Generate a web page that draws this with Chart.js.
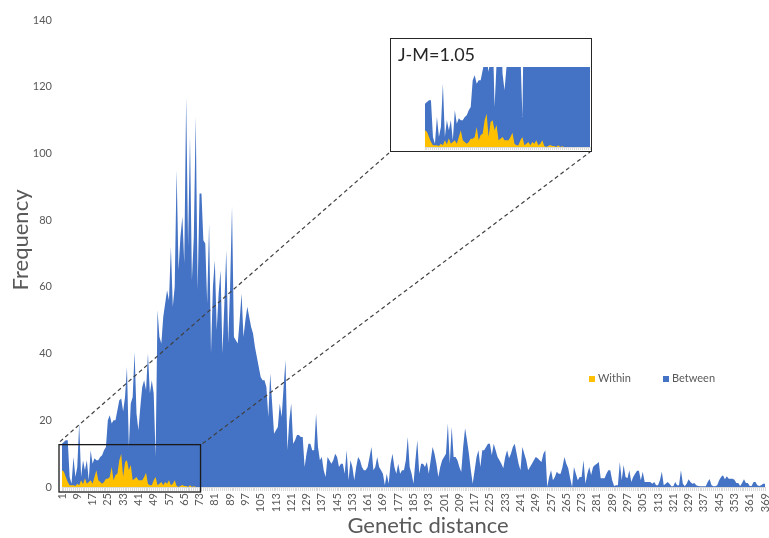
<!DOCTYPE html>
<html>
<head>
<meta charset="utf-8">
<script src="https://cdn.jsdelivr.net/npm/chart.js@4.4.1/dist/chart.umd.min.js"></script>
<style>
  body { margin: 0; background: #fff; font-family: Lato, "Open Sans", sans-serif; }
  #wrap { position: relative; width: 769px; height: 538px; }
  #inset { position: absolute; left: 390px; top: 38px; width: 200px; height: 112px;
           border: 1.3px solid #262626; background: #fff; }
  #inset .jm { position: absolute; left: 7px; top: 6px; font-size: 18px; color: #262626; line-height: 1; }
  #inset canvas { position: absolute; left: 0; top: 0; }
  .leg { position: absolute; top: 371px; font-size: 11px; color: #595959; line-height: 14px; }
  .leg i { display: inline-block; width: 6px; height: 6px; margin-right: 3px; vertical-align: 0; }
</style>
</head>
<body>
<div id="wrap">
  <canvas id="main" width="769" height="538"></canvas>
  <div id="inset">
    <canvas id="zoom" width="200" height="112"></canvas>
    <span class="jm">J-M=1.05</span>
  </div>
  <div class="leg" style="left:589px"><i style="background:#FFC000"></i>Within</div>
  <div class="leg" style="left:663px"><i style="background:#4472C4"></i>Between</div>
</div>
<script>
// Distancias genéticas 1..369 (categorías del eje X)
const distancias = Array.from({ length: 369 }, (_, i) => String(i + 1));

// Frecuencias
const within = [
  5, 4.6, 3, 1.5, 0.5, 0.5, 0.5, 0.3, 1, 0.5,
  2, 0.8, 2.6, 1, 1.5, 2, 1, 3, 5, 2,
  1.5, 1, 1.5, 2.5, 2.5, 3, 6, 2, 3.6, 4,
  8, 10, 3, 7.5, 8, 5, 6.6, 2, 2.5, 3,
  2, 2, 2, 3, 4.3, 1, 0.5, 0.5, 2, 3,
  0.5, 1, 1.5, 0.5, 1.5, 1, 2, 0.5, 1, 2,
  0.3, 0, 0.3, 0.6, 0.3, 0.3, 0, 0.5, 0, 0.2, 0, 0,
];

const between = [
  13, 13.5, 14, 14, 3, 1, 9, 3, 6, 19,
  3, 8, 5, 8, 2, 11, 7, 8.6, 8, 8,
  9, 9.5, 11, 12, 20, 21.5, 19, 20, 20, 23,
  26, 26.5, 22.6, 27, 36, 12, 25, 27, 40.5, 22,
  17, 24, 30, 32, 29, 40, 28, 32, 28, 9,
  53, 45, 43, 51, 55, 59, 56, 72, 54, 60,
  95, 65, 75, 81, 67, 117, 72, 105, 62, 75,
  111, 59, 88, 88, 74, 73, 55, 79, 40, 60,
  68, 47, 58, 65, 40, 55, 71, 43, 60, 84,
  45, 44, 43, 50, 58, 45, 50, 54, 51, 48,
  46, 42, 39, 36, 33, 32, 32, 30, 21, 34,
  25, 16, 17, 18, 25, 21, 30, 38, 11, 20,
  25, 13, 14, 15.6, 15.6, 15, 15, 6, 10, 13,
  13, 11, 11, 22, 12, 8, 9, 5, 3, 9,
  8, 7, 8, 10, 9, 6, 7, 7, 4, 11,
  2, 8, 6, 2, 6, 9, 8, 6, 5, 5,
  6, 9, 12, 5, 6, 9, 6, 5, 4, 0.5,
  4, 1, 7, 10, 6, 4, 7, 4, 5, 5,
  8, 15, 6, 4, 1, 8, 14, 4, 7, 7,
  6, 7.5, 4, 8, 12, 10, 7, 3, 6, 8,
  9, 10, 19, 7, 18, 9, 9, 8, 6, 4.5,
  12, 17.6, 14, 10, 5, 1, 5, 9, 11, 6,
  11, 11, 12, 13, 13, 9.5, 13, 11, 9, 8,
  7, 5.6, 9, 11, 8.6, 10, 12, 13, 10, 7,
  5, 12, 10, 8, 5, 6, 7, 8, 9, 8.6,
  8, 7.5, 10, 11, 0, 3, 5, 2, 3, 4.6,
  4, 4, 6, 9, 7, 5.6, 2.6, 0, 6, 4,
  2, 3, 3, 8, 1, 4, 6, 3.6, 6, 6.6,
  7, 7.5, 2.6, 2.6, 2.6, 4, 5, 5, 2, 0.3,
  0.5, 0.5, 7.5, 2, 6.6, 3, 2.6, 5, 1.5, 3,
  4, 4.9, 4.9, 2, 4.6, 1.5, 1.5, 1.5, 1.5, 1,
  1.5, 0.5, 0.5, 2, 4.6, 0.5, 1, 1.5, 1, 0.2,
  0.2, 1.5, 0.5, 0.5, 5, 1, 0.2, 1, 2.3, 1.5,
  1, 1.2, 0.5, 0.3, 0.2, 0.2, 0.2, 0.2, 1.5, 2.4,
  0.5, 0.2, 0.2, 0.5, 2, 3, 3.5, 2.3, 3.2, 2.5,
  2.5, 2.5, 2.2, 1.2, 1.2, 0.3, 1.2, 2.3, 1.2, 1.2,
  0.3, 0.3, 1.5, 1.5, 0.5, 0.3, 0.5, 1, 1,
];

const AZUL = "#4472C4";
const AMARILLO = "#FFC000";
const GRIS = "#595959";

function datasets() {
  // Within primero: Chart.js lo pinta encima de Between
  return [
    { label: "Within", data: within, backgroundColor: AMARILLO, fill: "origin", borderWidth: 0, pointRadius: 0 },
    { label: "Between", data: between, backgroundColor: AZUL, fill: "origin", borderWidth: 0, pointRadius: 0 },
  ];
}

// Recuadro de la zona ampliada, líneas discontinuas hacia el inset
// y títulos de los ejes (Excel no los centra exactamente)
const zoomMarks = {
  id: "zoomMarks",
  afterDraw(chart) {
    const { ctx, scales: { x, y } } = chart;
    const left = x.getPixelForValue(0) - 3;
    const right = x.getPixelForValue(72) + 1;
    const top = y.getPixelForValue(12.7);
    const bottom = y.getPixelForValue(0) + 5;
    ctx.save();
    ctx.strokeStyle = "#1a1a1a";
    ctx.lineWidth = 1.3;
    ctx.strokeRect(left, top, right - left, bottom - top);
    ctx.strokeStyle = "#404040";
    ctx.lineWidth = 1.2;
    ctx.setLineDash([4, 3]);
    ctx.beginPath();
    ctx.moveTo(left + 1, top - 3);
    ctx.lineTo(389, 153);
    ctx.moveTo(right + 2, top - 1);
    ctx.lineTo(590, 152);
    ctx.stroke();

    ctx.fillStyle = GRIS;
    ctx.font = "22px Lato";
    ctx.textAlign = "center";
    ctx.textBaseline = "middle";
    ctx.fillText("Genetic distance", 428, 526);
    ctx.translate(21, 240);
    ctx.rotate(-Math.PI / 2);
    ctx.fillText("Frequency", 0, 0);
    ctx.restore();
  },
};

new Chart(document.getElementById("main"), {
  type: "line",
  data: { labels: distancias, datasets: datasets() },
  plugins: [zoomMarks],
  options: {
    responsive: false,
    animation: false,
    layout: { padding: { top: 20, right: 4 } },
    plugins: { legend: { display: false }, tooltip: { enabled: false } },
    elements: { line: { tension: 0 } },
    scales: {
      x: {
        grid: { display: true, drawOnChartArea: false, drawTicks: true, tickLength: 4, color: "#d9d9d9" },
        border: { display: true, color: "#d9d9d9" },
        ticks: {
          autoSkip: false, maxRotation: 90, minRotation: 90, padding: 2,
          color: GRIS, font: { family: "Lato", size: 11 },
          callback: (v, i) => (i % 8 === 0 ? distancias[i] : ""),
        },
        afterFit: (s) => {
          s.height = 51;
          // sin margen extra por la última etiqueta girada
          s.paddingLeft = 0;
          s.paddingRight = 0;
        },
      },
      y: {
        min: 0, max: 140,
        grid: { display: false, drawTicks: false },
        border: { display: false },
        ticks: { stepSize: 20, padding: 10, color: GRIS, font: { family: "Lato", size: 11 } },
        afterFit: (s) => { s.width = 62; },
      },
    },
  },
});

// Inset: la misma serie, ampliada al comienzo del eje
new Chart(document.getElementById("zoom"), {
  type: "line",
  data: { labels: distancias, datasets: datasets() },
  options: {
    responsive: false,
    animation: false,
    layout: { padding: { left: 34, top: 28, right: 1, bottom: 0 } },
    plugins: { legend: { display: false }, tooltip: { enabled: false } },
    elements: { line: { tension: 0 } },
    scales: {
      x: {
        min: 0, max: 83,
        grid: { display: true, drawOnChartArea: false, drawTicks: true, tickLength: 3, color: "#d9d9d9" },
        border: { display: true, color: "#d9d9d9" },
        ticks: { display: false, autoSkip: false },
        afterFit: (s) => { s.height = 4; },
      },
      y: { display: false, min: 0, max: 24 },
    },
  },
});
</script>
</body>
</html>
